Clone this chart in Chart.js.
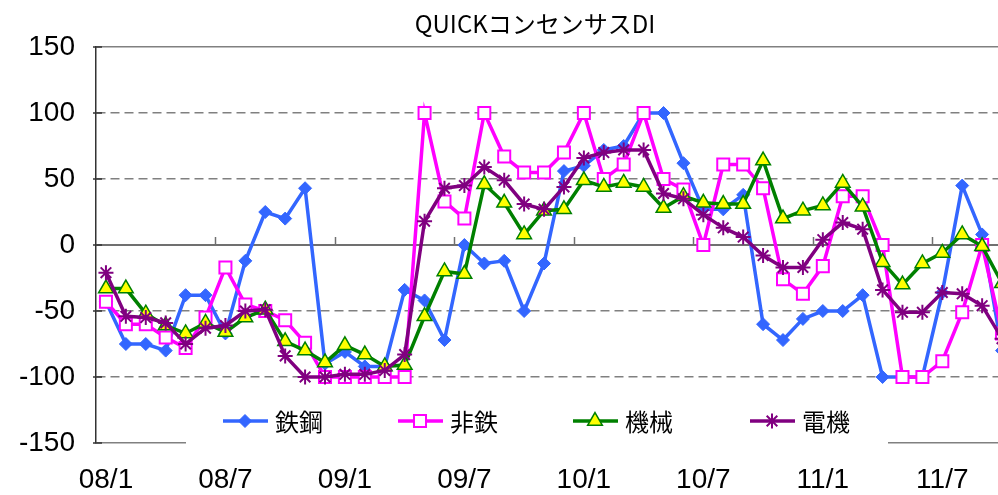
<!DOCTYPE html>
<html>
<head>
<meta charset="utf-8">
<script src="https://cdn.jsdelivr.net/npm/chart.js@4.4.1/dist/chart.umd.min.js"></script>
<style>
html, body { margin: 0; padding: 0; background: #fff; overflow: hidden; }
canvas { display: block; }
</style>
</head>
<body>
<canvas id="diChart" width="1070" height="495"></canvas>
<script>
// months on the x axis (only the /1 and /7 ones get a label)
const months = [
  '08/1','08/2','08/3','08/4','08/5','08/6','08/7','08/8','08/9','08/10','08/11','08/12',
  '09/1','09/2','09/3','09/4','09/5','09/6','09/7','09/8','09/9','09/10','09/11','09/12',
  '10/1','10/2','10/3','10/4','10/5','10/6','10/7','10/8','10/9','10/10','10/11','10/12',
  '11/1','11/2','11/3','11/4','11/5','11/6','11/7','11/8','11/9','11/10'
];

// QUICK consensus DI by sector
const steel = [-43, -75, -75, -80, -38, -38, -67, -12, 25, 20, 43, -90,
  -81, -92, -92, -34, -42, -72, 0, -14, -12, -50, -14, 56,
  60, 72, 75, 100, 100, 62, 27, 27, 38, -60, -72, -56,
  -50, -50, -38, -100, -100, -100, -36, 45, 8, -80];
const nonferrous = [-43, -60, -60, -70, -78, -55, -17, -45, -50, -57, -74, -100,
  -100, -100, -100, -100, 100, 33, 20, 100, 67, 55, 55, 70,
  100, 50, 61, 100, 50, 42, 0, 61, 61, 43, -26, -37,
  -16, 37, 37, 0, -100, -100, -88, -51, 0, -67];
const machinery = [-33, -33, -52, -61, -67, -59, -66, -55, -49, -73, -80, -89,
  -76, -83, -92, -91, -54, -20, -22, 46, 32, 8, 26, 27,
  49, 44, 47, 44, 28, 37, 32, 31, 31, 64, 20, 26,
  30, 47, 29, -13, -30, -14, -6, 8, -1, -29];
const electric = [-21, -54, -55, -59, -75, -63, -61, -50, -49, -84, -100, -100,
  -98, -98, -95, -83, 18, 43, 45, 59, 49, 31, 27, 44,
  66, 70, 72, 72, 39, 35, 23, 13, 6, -8, -17, -17,
  4, 17, 12, -34, -51, -51, -36, -37, -46, -71];

const isLabelMonth = m => m.split('/')[1] === '1' || m.split('/')[1] === '7';

// zero line tick marks + inside ticks on the value axis
const axisMarks = {
  id: 'axisMarks',
  beforeDatasetsDraw(chart) {
    const { ctx, scales: { x, y } } = chart;
    const y0 = y.getPixelForValue(0);
    ctx.save();
    ctx.strokeStyle = '#707070';
    ctx.lineWidth = 1.5;
    months.forEach((m, i) => {
      if (i === 0 || !isLabelMonth(m)) return;
      const px = Math.round((x.getPixelForValue(i - 1) + x.getPixelForValue(i)) / 2) + 0.5;
      ctx.beginPath();
      ctx.moveTo(px, y0 - 8);
      ctx.lineTo(px, y0);
      ctx.stroke();
    });
    ctx.strokeStyle = '#333';
    y.ticks.forEach(t => {
      const py = y.getPixelForValue(t.value);
      ctx.beginPath();
      ctx.moveTo(x.left - 3, py);
      ctx.lineTo(x.left + 6, py);
      ctx.stroke();
    });
    ctx.restore();
  }
};

// legend box sitting on top of the plot, like the original
const boxLegend = {
  id: 'boxLegend',
  afterDatasetsDraw(chart) {
    const ctx = chart.ctx;
    const starts = [223, 398, 573, 750];
    const ly = 421;
    ctx.save();
    ctx.fillStyle = '#fff';
    ctx.fillRect(186, 392, 702, 56);
    chart.data.datasets.forEach((ds, i) => {
      const lx = starts[i];
      ctx.strokeStyle = ds.borderColor;
      ctx.lineWidth = ds.borderWidth;
      ctx.beginPath();
      ctx.moveTo(lx, ly);
      ctx.lineTo(lx + 45, ly);
      ctx.stroke();
      ctx.fillStyle = ds.pointBackgroundColor;
      ctx.strokeStyle = ds.pointBorderColor;
      ctx.lineWidth = ds.pointBorderWidth;
      Chart.helpers.drawPoint(ctx, {
        pointStyle: ds.pointStyle,
        radius: ds.pointRadius,
        borderWidth: ds.pointBorderWidth,
        rotation: 0
      }, lx + 22, ly);
      ctx.fillStyle = '#000';
      ctx.font = '24px "Noto Sans CJK JP"';
      ctx.textBaseline = 'middle';
      ctx.textAlign = 'left';
      ctx.fillText(ds.label, lx + 52, ly + 1);
    });
    ctx.restore();
  }
};

const ctx = document.getElementById('diChart').getContext('2d');
new Chart(ctx, {
  type: 'line',
  data: {
    labels: months,
    datasets: [
      {
        label: '鉄鋼',
        data: steel,
        borderColor: '#3366ff',
        backgroundColor: '#3366ff',
        borderWidth: 3.5,
        pointStyle: 'rectRot',
        pointRadius: 6.5,
        pointBackgroundColor: '#3366ff',
        pointBorderColor: '#3366ff',
        pointBorderWidth: 1,
        order: 4
      },
      {
        label: '非鉄',
        data: nonferrous,
        borderColor: '#ff00ff',
        backgroundColor: '#ff00ff',
        borderWidth: 3.5,
        pointStyle: 'rect',
        pointRadius: 8.5,
        pointBackgroundColor: '#ffffff',
        pointBorderColor: '#ff00ff',
        pointBorderWidth: 2,
        order: 3
      },
      {
        label: '機械',
        data: machinery,
        borderColor: '#008000',
        backgroundColor: '#008000',
        borderWidth: 3.5,
        pointStyle: 'triangle',
        pointRadius: 8.5,
        pointBackgroundColor: '#ffff00',
        pointBorderColor: '#008000',
        pointBorderWidth: 1.5,
        order: 2
      },
      {
        label: '電機',
        data: electric,
        borderColor: '#800080',
        backgroundColor: '#800080',
        borderWidth: 3.5,
        pointStyle: 'star',
        pointRadius: 7.5,
        pointBackgroundColor: '#800080',
        pointBorderColor: '#800080',
        pointBorderWidth: 2,
        order: 1
      }
    ]
  },
  options: {
    responsive: false,
    animation: false,
    devicePixelRatio: 1,
    events: [],
    layout: { padding: 0 },
    plugins: {
      legend: { display: false },
      tooltip: { enabled: false },
      title: {
        display: true,
        text: 'QUICKコンセンサスDI',
        color: '#000',
        font: { family: '"Noto Sans CJK JP"', size: 24, weight: 'normal', lineHeight: 1.2 },
        padding: { top: 9, bottom: 9.2 }
      }
    },
    scales: {
      x: {
        offset: true,
        afterFit: s => { s.height = 52; },
        grid: { display: false, drawTicks: false },
        border: { display: false },
        ticks: {
          autoSkip: false,
          maxRotation: 0,
          minRotation: 0,
          padding: 23,
          color: '#000',
          font: { family: '"Liberation Sans", Arial, sans-serif', size: 28, lineHeight: 1 },
          callback: function (value, index) {
            const m = months[index];
            return isLabelMonth(m) ? m : '';
          }
        }
      },
      y: {
        min: -150,
        max: 150,
        afterFit: s => { s.width = 96; },
        grid: {
          drawTicks: false,
          color: c => (c.tick && c.tick.value === 0 ? '#707070' : '#808080'),
          lineWidth: c => (c.tick && c.tick.value === 0 ? 2 : 1.5)
        },
        border: {
          display: true,
          color: '#333',
          width: 1.5,
          dash: c => (c.tick && Math.abs(c.tick.value) > 0 && Math.abs(c.tick.value) < 150 ? [9, 5] : [])
        },
        ticks: {
          stepSize: 50,
          padding: 21,
          color: '#000',
          font: { family: '"Liberation Sans", Arial, sans-serif', size: 28 }
        }
      },
      // empty right-hand strip: the plot runs past the picture's right edge
      yRight: {
        position: 'right',
        min: -150,
        max: 150,
        afterFit: s => { s.width = 58; },
        grid: { display: false, drawTicks: false },
        border: { display: false },
        ticks: { display: false }
      }
    }
  },
  plugins: [axisMarks, boxLegend]
});
</script>
</body>
</html>
